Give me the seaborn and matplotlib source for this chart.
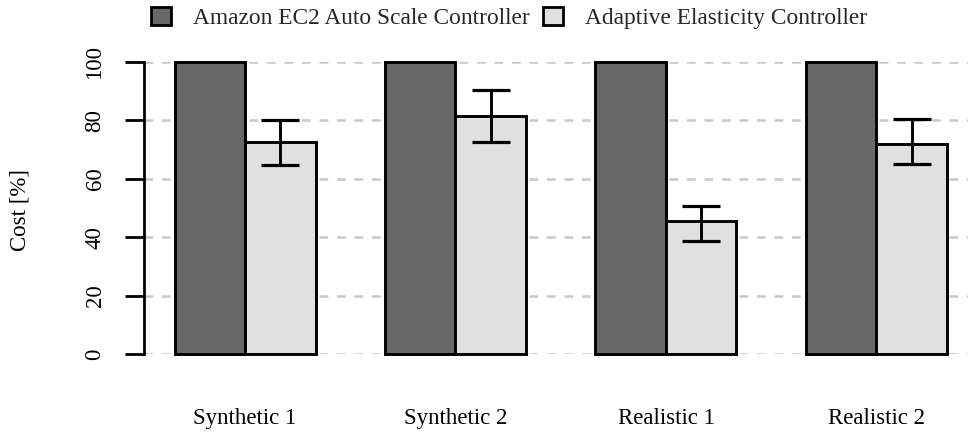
import numpy as np
import pandas as pd
import matplotlib
matplotlib.use("Agg")
import matplotlib.pyplot as plt
import seaborn as sns
from matplotlib.patches import Patch

scenarios = ["Synthetic 1", "Synthetic 2", "Realistic 1", "Realistic 2"]
controllers = ["Amazon EC2 Auto Scale Controller", "Adaptive Elasticity Controller"]
amazon_cost = [100, 100, 100, 100]
adaptive_cost = [72.5, 81.4, 45.6, 71.9]
adaptive_low = [64.7, 72.5, 38.8, 65.2]
adaptive_high = [80.0, 90.4, 50.7, 80.4]
yticks = [0, 20, 40, 60, 80, 100]

sns.set_theme(style="white")
plt.rcParams["font.family"] = ["Liberation Serif", "DejaVu Serif"]

df = pd.DataFrame({
    "scenario": scenarios * 2,
    "cost": amazon_cost + adaptive_cost,
    "controller": [controllers[0]] * 4 + [controllers[1]] * 4,
})

W, H = 968, 432
fig = plt.figure(figsize=(W / 100, H / 100), dpi=100)
ax = fig.add_axes([144 / W, (H - 354) / H, (968 - 144) / W, 292 / H])

for t in yticks:
    ax.axhline(t, color="#c8c8c8", lw=1.8, ls=(0, (3.5, 3.5)), zorder=0)

sns.barplot(data=df, x="scenario", y="cost", hue="controller",
            order=scenarios, hue_order=controllers,
            palette=["#686868", "#e0e0e0"], width=0.67,
            edgecolor="black", linewidth=2.1, errorbar=None,
            saturation=1, ax=ax, legend=False, zorder=2)

for p in ax.patches:
    p.set_clip_on(False)

light = ax.containers[1]
xs = [b.get_x() + b.get_width() / 2 for b in light]
means = np.array(adaptive_cost)
yerr = [means - np.array(adaptive_low), np.array(adaptive_high) - means]
ax.errorbar(xs, means, yerr=yerr, fmt="none", ecolor="black",
            elinewidth=2.1, capsize=14, capthick=2.3, zorder=3, clip_on=False)

ax.set_xlim(-0.48, 3.435)
ax.set_ylim(0, 100)
ax.set_xlabel("")
ax.set_ylabel("")
for s in ["top", "right", "bottom"]:
    ax.spines[s].set_visible(False)
ax.spines["left"].set_linewidth(2.0)
ax.spines["left"].set_color("black")
ax.spines["left"].set_bounds(0, 100)

ax.set_yticks(yticks)
ax.set_yticklabels([str(t) for t in yticks], rotation=90, va="center", fontsize=16.5)
ax.tick_params(axis="y", left=True, length=13.7, width=2.0, color="black", pad=14, labelcolor="black")
ax.tick_params(axis="x", length=0, pad=39, labelsize=16.5, labelcolor="black")

fig.text(20 / W, 1 - 210 / H, "Cost [%]", rotation=90, ha="center", va="center",
         fontsize=16.5, color="black")

handles = [Patch(facecolor="#686868", edgecolor="black", linewidth=2.0),
           Patch(facecolor="#e0e0e0", edgecolor="black", linewidth=2.0)]
fig.legend(handles, controllers, loc="center", bbox_to_anchor=(509 / W, 1 - 18 / H),
           ncol=2, frameon=False, fontsize=16.8, handlelength=0.85, handleheight=0.85,
           handletextpad=0.95, columnspacing=0.55, borderpad=0)

fig.savefig("out.png", dpi=100)
